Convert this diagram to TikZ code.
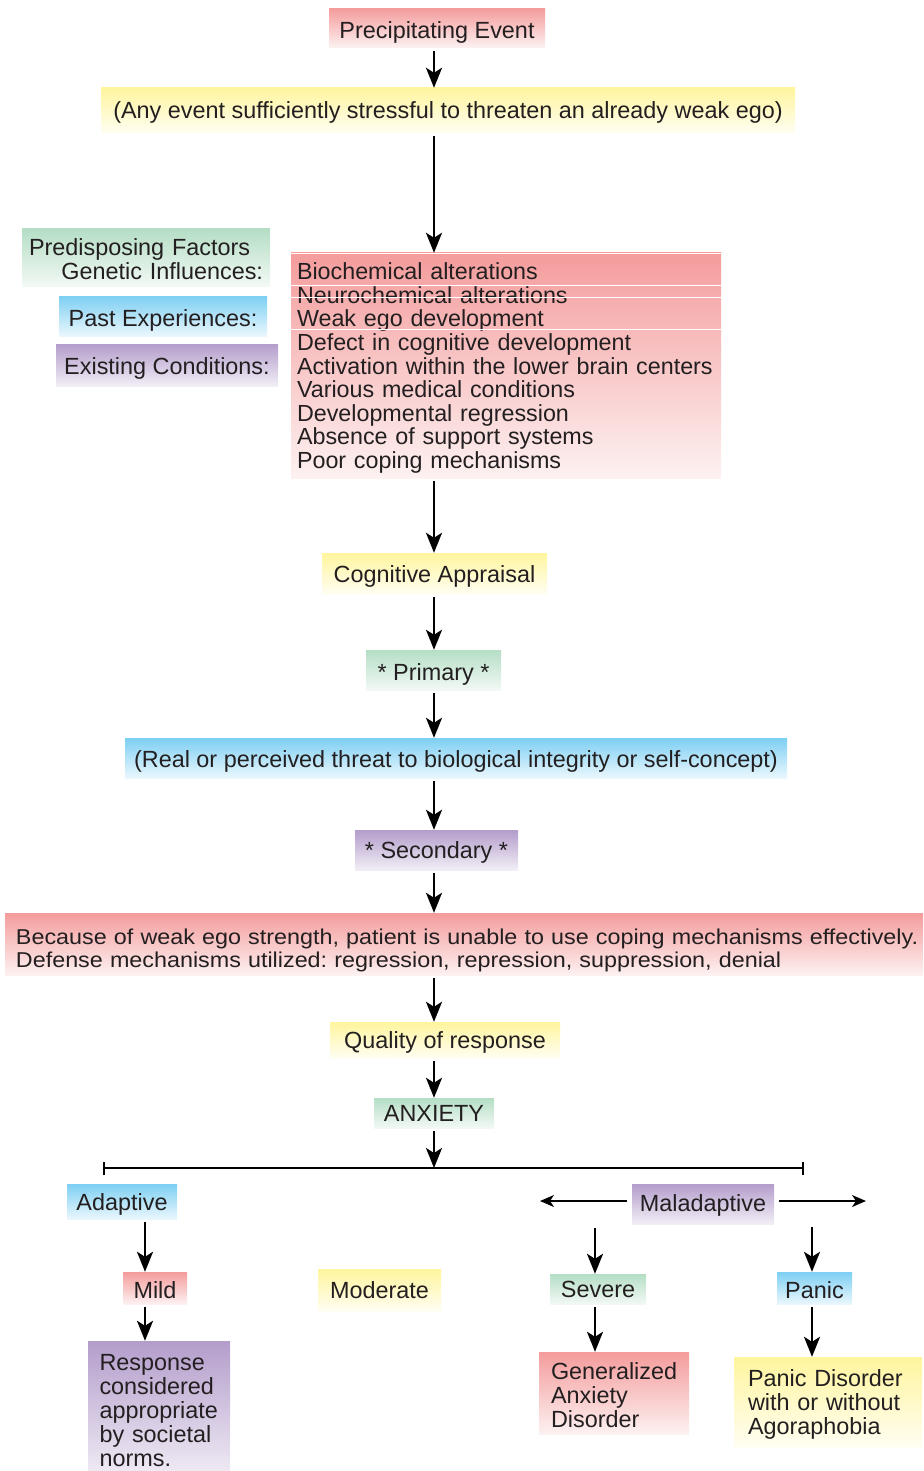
\documentclass[tikz,border=0pt]{standalone}
\usepackage{fontspec}
\setmainfont{Liberation Sans}
\newfontfamily\widefont[FakeStretch=1.085]{Liberation Sans}
\usepackage{xcolor}
\usetikzlibrary{arrows.meta,shapes}
\frenchspacing

\definecolor{ink}{HTML}{231F20}
\definecolor{redtop}{HTML}{F49C9C}
\definecolor{redbot}{HTML}{FDF1F1}
\definecolor{yellowtop}{HTML}{FFF59E}
\definecolor{yellowbot}{HTML}{FFFEF2}
\definecolor{greentop}{HTML}{B5DEC5}
\definecolor{greenbot}{HTML}{F2F9F5}
\definecolor{bluetop}{HTML}{7DCFF3}
\definecolor{bluebot}{HTML}{EAF7FD}
\definecolor{purpletop}{HTML}{B39DCB}
\definecolor{purplebot}{HTML}{F2EEF6}

\tikzset{
  box/.style={inner sep=0pt, text=ink, font=\fontsize{23.4}{24}\selectfont},
  oneline/.style={text height=17pt, text depth=0pt},
  redbox/.style={box, top color=redtop, bottom color=redbot},
  yellowbox/.style={box, top color=yellowtop, bottom color=yellowbot},
  greenbox/.style={box, top color=greentop, bottom color=greenbot},
  bluebox/.style={box, top color=bluetop, bottom color=bluebot},
  purplebox/.style={box, top color=purpletop, bottom color=purplebot},
  flow/.style={-{Stealth[length=20pt,width=16pt,inset=5pt]}, line width=2.6pt, shorten <=3pt},
  side/.style={-{Stealth[length=14pt,width=12pt,inset=4pt]}, line width=1.6pt, shorten <=5pt}
}

\begin{document}
\begin{tikzpicture}[x=1pt,y=-1pt]
    \useasboundingbox (0,0) rectangle (923,1471);
    % Event
    \node[redbox, oneline, text height=22pt, minimum width=216pt, minimum height=39pt] (event) at (437,28) {Precipitating Event};
    \node[yellowbox, oneline, minimum width=694pt, minimum height=45pt] (anyevent) at (448,110.5) {(Any event sufficiently stressful to threaten an already weak ego)};
    % Predisposing factors
    \node[greenbox, text width=234pt, inner xsep=7pt, align=right, minimum height=57pt] (factors) at (146,257.5) {\rule{0pt}{21pt}\mbox{Predisposing Factors\kern13pt}\\Genetic Influences:};
    \node[bluebox, oneline, text height=20pt, minimum width=208pt, minimum height=40pt] (past) at (163,316) {Past Experiences:};
    \node[purplebox, oneline, text height=19pt, minimum width=222pt, minimum height=42pt] (existing) at (167,365) {Existing Conditions:};
    \node[redbox, text width=418pt, inner xsep=6pt, align=left, minimum height=225pt, font=\fontsize{23.3}{23.6}\selectfont] (causes) at (506,365.5) {\rule{0pt}{22pt}Biochemical alterations\\Neurochemical alterations\\Weak ego development\\Defect in cognitive development\\Activation within the lower brain centers\\Various medical conditions\\Developmental regression\\Absence of support systems\\Poor coping mechanisms};
    \foreach \d in {1,33,45,77}
      \draw[white, line width=0.8pt] ([yshift=-\d pt]causes.north west) -- ([yshift=-\d pt]causes.north east);
    % Appraisal
    \node[yellowbox, oneline, minimum width=225pt, minimum height=41pt] (appraisal) at (434.5,573.5) {Cognitive Appraisal};
    \node[greenbox, oneline, text height=20pt, minimum width=135pt, minimum height=40pt] (primary) at (433.5,670) {* Primary *};
    \node[bluebox, oneline, text height=19pt, minimum width=662pt, minimum height=40pt] (threat) at (456,758) {(Real or perceived threat to biological integrity or self-concept)};
    \node[purplebox, oneline, minimum width=163pt, minimum height=40pt] (secondary) at (436.5,850) {* Secondary *};
    \node[redbox, text width=896pt, inner xsep=11pt, align=left, minimum height=62pt, font=\widefont\fontsize{21.5}{23}\selectfont] (weakego) at (464,944) {\rule{0pt}{27.7pt}\mbox{Because of weak ego strength, patient is unable to use coping mechanisms effectively.}\\\mbox{Defense mechanisms utilized: regression, repression, suppression, denial}};
    \node[yellowbox, oneline, minimum width=230pt, minimum height=36pt] (quality) at (445,1040) {Quality of response};
    \node[greenbox, oneline, minimum width=120pt, minimum height=30pt] (anxiety) at (434,1113) {ANXIETY};
    % Main column
    \coordinate (mainx) at (434,0);
    \draw[flow] (mainx |- event.south) -- (mainx |- anyevent.north);
    \draw[flow] (mainx |- anyevent.south) -- (mainx |- causes.north);
    \draw[flow] (mainx |- causes.south) -- (mainx |- appraisal.north);
    \draw[flow] (mainx |- appraisal.south) -- (mainx |- primary.north);
    \draw[flow] (mainx |- primary.south) -- (mainx |- threat.north);
    \draw[flow] (mainx |- threat.south) -- (mainx |- secondary.north);
    \draw[flow] (mainx |- secondary.south) -- (mainx |- weakego.north);
    \draw[flow] (mainx |- weakego.south) -- (mainx |- quality.north);
    \draw[flow] (mainx |- quality.south) -- (mainx |- anxiety.north);
    % Split
    \coordinate (barL) at (103,1168);
    \coordinate (barR) at (804,1168);
    \draw[{Bar[width=13pt]}-{Bar[width=13pt]}, line width=2.2pt] (barL) -- (barR);
    \draw[flow] (mainx |- anxiety.south) -- (mainx |- barL);
    % Adaptive
    \node[bluebox, oneline, minimum width=110pt, minimum height=35pt] (adaptive) at (122,1201.5) {Adaptive};
    \node[redbox, oneline, text height=20pt, minimum width=64pt, minimum height=32pt] (mild) at (155,1288) {Mild};
    \node[purplebox, text width=119pt, inner xsep=11.5pt, align=left, minimum height=139pt] (response) at (159,1410.5) {Response\\considered\\appropriate\\by societal\\norms.};
    \coordinate (adx) at (145,0);
    \draw[flow] (adx |- adaptive.south) -- (adx |- mild.north);
    \draw[flow] (adx |- mild.south) -- (adx |- response.north);
    \node[yellowbox, oneline, minimum width=123pt, minimum height=42pt] (moderate) at (379.5,1290) {Moderate};
    % Maladaptive
    \node[purplebox, oneline, text height=15pt, minimum width=142pt, minimum height=40pt] (maladaptive) at (703,1204) {Maladaptive};
    \coordinate (leftend) at (540,1201);
    \coordinate (rightend) at (866,1201);
    \draw[side] (leftend -| maladaptive.west) -- (leftend);
    \draw[side] (rightend -| maladaptive.east) -- (rightend);
    \node[greenbox, oneline, minimum width=96pt, minimum height=30pt] (severe) at (598,1289) {Severe};
    \node[bluebox, oneline, text height=20pt, minimum width=75pt, minimum height=32pt] (panic) at (814.5,1288) {Panic};
    \node[redbox, text width=126pt, inner xsep=12pt, align=left, minimum height=82pt] (gad) at (614,1393) {\rule{0pt}{21pt}Generalized\\Anxiety\\Disorder};
    \node[yellowbox, text width=160pt, inner xsep=14pt, align=left, minimum height=90pt] (pdis) at (828,1402) {\rule{0pt}{21pt}Panic Disorder\\with or without\\Agoraphobia};
    \coordinate (sevtop) at (595,1225);
    \coordinate (pantop) at (812,1224);
    \draw[flow] (sevtop) -- (sevtop |- severe.north);
    \draw[flow] (pantop) -- (pantop |- panic.north);
    \draw[flow] (sevtop |- severe.south) -- (sevtop |- gad.north);
    \draw[flow] (pantop |- panic.south) -- (pantop |- pdis.north);
\end{tikzpicture}
\end{document}
